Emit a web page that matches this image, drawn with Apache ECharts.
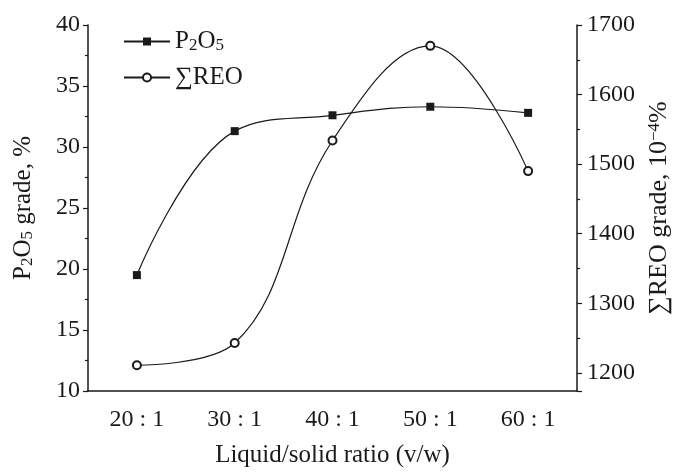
<!DOCTYPE html>
<html>
<head>
<meta charset="utf-8">
<script src="https://cdn.jsdelivr.net/npm/echarts@6/dist/echarts.min.js"></script>
<style>
  html, body { margin: 0; padding: 0; background: #fff; }
  #chart { width: 683px; height: 473px; }
</style>
</head>
<body>
<div id="chart"></div>
<script>
  // 液固比
  const ratios = ['20 : 1', '30 : 1', '40 : 1', '50 : 1', '60 : 1'];
  // P2O5 品位, %
  const p2o5 = [19.5, 31.3, 32.6, 33.3, 32.8];
  // ∑REO 品位, 10^-4 %
  const reo = [1211, 1243, 1534, 1670, 1490];

  const serif = '"Liberation Serif", "Times New Roman", "DejaVu Serif", serif';
  const black = '#1a1a1a';

  const chart = echarts.init(document.getElementById('chart'));

  // subscripts / superscripts via rich text
  const rich = {
    a: { fontFamily: serif, fontSize: 25, color: black, lineHeight: 25, verticalAlign: 'top' },
    s: { fontFamily: serif, fontSize: 17, color: black, lineHeight: 17, verticalAlign: 'bottom', padding: [11, 0, 0, 0] },
    u: { fontFamily: serif, fontSize: 16, color: black, lineHeight: 16, verticalAlign: 'top' }
  };
  const richR = {
    a: { fontFamily: serif, fontSize: 26, color: black, lineHeight: 26, verticalAlign: 'top' },
    u: { fontFamily: serif, fontSize: 17, color: black, lineHeight: 17, verticalAlign: 'top' }
  };

  const option = {
    backgroundColor: '#fff',
    animation: false,
    grid: { left: 88, right: 106, top: 25, bottom: 80 },
    legend: {
      orient: 'vertical',
      left: 118,
      top: 21,
      itemWidth: 46,
      itemHeight: 10,
      itemGap: 11,
      data: ['P2O5', 'REO'],
      formatter: function (name) {
        if (name === 'P2O5') return '{a|P}{s|2}{a|O}{s|5}';
        return '{a|∑REO}';
      },
      textStyle: { fontFamily: serif, fontSize: 25, color: black, rich: rich }
    },
    xAxis: [
      {
        type: 'category',
        data: ratios,
        boundaryGap: true,
        name: 'Liquid/solid ratio (v/w)',
        nameLocation: 'middle',
        nameGap: 52,
        nameTextStyle: { fontFamily: serif, fontSize: 25, color: black },
        axisLine: { lineStyle: { color: black, width: 1.5 } },
        axisTick: { alignWithLabel: true, length: 5, lineStyle: { color: black, width: 1.2 } },
        axisLabel: { fontFamily: serif, fontSize: 24, color: black, margin: 17 },
        splitLine: { show: false }
      },
      {
        // minor ticks between categories
        type: 'category',
        data: ratios,
        boundaryGap: true,
        position: 'bottom',
        axisLine: { show: false },
        axisTick: { alignWithLabel: false, length: 3, lineStyle: { color: black, width: 1.2 } },
        axisLabel: { show: false },
        splitLine: { show: false }
      }
    ],
    yAxis: [
      {
        type: 'value',
        min: 10,
        max: 40,
        interval: 5,
        position: 'left',
        name: '{a|P}{s|2}{a|O}{s|5}{a| grade, %}',
        nameLocation: 'middle',
        nameRotate: 90,
        nameGap: 52,
        nameTextStyle: { fontFamily: serif, fontSize: 25, color: black, rich: rich },
        axisLine: { show: true, lineStyle: { color: black, width: 1.5 } },
        axisTick: { show: true, length: 5, lineStyle: { color: black, width: 1.2 } },
        minorTick: { show: true, splitNumber: 2, length: 3, lineStyle: { color: black, width: 1.2 } },
        axisLabel: { fontFamily: serif, fontSize: 24, color: black, margin: 8 },
        splitLine: { show: false }
      },
      {
        type: 'value',
        min: 1174,
        max: 1700,
        splitNumber: 5,
        position: 'right',
        name: '{a|∑REO grade, 10}{u|−4}{a|%}',
        nameLocation: 'middle',
        nameRotate: 90,
        nameGap: 56,
        nameTextStyle: { fontFamily: serif, fontSize: 26, color: black, rich: richR },
        axisLine: { show: true, lineStyle: { color: black, width: 1.5 } },
        axisTick: { show: true, length: 5, lineStyle: { color: black, width: 1.2 } },
        minorTick: { show: true, splitNumber: 2, length: 3, lineStyle: { color: black, width: 1.2 } },
        axisLabel: {
          fontFamily: serif, fontSize: 24, color: black, margin: 10,
          formatter: function (v) { return v % 100 === 0 ? String(v) : ''; }
        },
        splitLine: { show: false }
      }
    ],
    series: [
      {
        name: 'P2O5',
        type: 'line',
        xAxisIndex: 0,
        yAxisIndex: 0,
        data: p2o5,
        smooth: 0.4,
        symbol: 'rect',
        symbolSize: 8,
        itemStyle: { color: black },
        lineStyle: { color: black, width: 1.2 }
      },
      {
        name: 'REO',
        type: 'line',
        xAxisIndex: 0,
        yAxisIndex: 1,
        data: reo,
        smooth: 0.4,
        symbol: 'circle',
        symbolSize: 8,
        itemStyle: { color: '#fff', borderColor: black, borderWidth: 2 },
        lineStyle: { color: black, width: 1.2 }
      }
    ]
  };

  chart.setOption(option);
</script>
</body>
</html>
